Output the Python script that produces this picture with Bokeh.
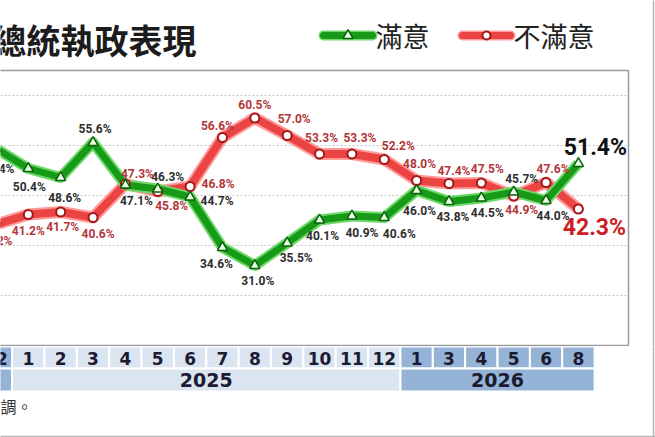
from bokeh.plotting import figure
from bokeh.layouts import column
from bokeh.models import ColumnDataSource, Range1d, Grid, FixedTicker
from bokeh.core.properties import value
from bokeh.embed import file_html
from bokeh.resources import INLINE

# --- data -------------------------------------------------------------
years = ["2024"] + ["2025"] * 12 + ["2026"] * 6
months = ["12", "1", "2", "3", "4", "5", "6", "7", "8", "9", "10", "11", "12",
          "1", "3", "4", "5", "6", "8"]
satisfied = [54.4, 50.4, 48.6, 55.6, 47.1, 46.3, 44.7, 34.6, 31.0, 35.5,
             40.1, 40.9, 40.6, 46.0, 43.8, 44.5, 45.7, 44.0, 51.4]
unsatisfied = [39.2, 41.2, 41.7, 40.6, 47.3, 45.8, 46.8, 56.6, 60.5, 57.0,
               53.3, 53.3, 52.2, 48.0, 47.4, 47.5, 44.9, 47.6, 42.3]
grid_ticks = [25, 35, 45, 55, 65]

title_text = "總統執政表現"
legend_sat = "滿意"
legend_unsat = "不滿意"
footnote = "資料來源：美麗島電子報國政民調。"

# label offsets (screen px) so the numbers sit where the original has them
sat_dx = [2, 1, 4, 2, 11, 10, 27, -6, 3, 9, 3, 10, 15, 3, 4, 6, 8, 7, 17]
sat_dy = [20, 18, 20, -14, 16, -12, 4, 16, 15, 15, 16, 17, 16, 20, 15, 15, -13, 15, -16]
uns_dx = [0, 0, 2, 5, 12, 14, 28, -5, 0, 7, 2, 8, 14, 3, 5, 6, 8, 7, 16]
uns_dy = [16, 16, 15, 16, -10, 14, -3, -12, -13, -17, -16, -16, -14, -17, -13, -14, 14, -14, 18]

# --- layout helpers (page pixels -> data) -------------------------------
W = 655
PX0, COLW = -4.56, 32.36        # page x of first column, column width
PY65, PXPCT = 95.0, 5.0         # page y of the 65% grid line, px per %
SPLIT = 346                     # page y where the month table figure starts


def xd(px):
    return (px - PX0) / COLW


def yd(py):
    return 65 - (py - PY65) / PXPCT


GREEN, GREEN_HALO = "#179a17", "#6fd86a"
RED, RED_HALO = "#ec4343", "#ff9c9c"
LABEL_FONT = value("Roboto")
CJK_FONT = value("Noto Sans CJK TC")
EDGE = "#b4b4b4"

n = len(months)
idx = list(range(n))
fmt = lambda v: "%.1f%%" % v

src = ColumnDataSource(dict(
    x=idx, sat=satisfied, uns=unsatisfied,
    sat_lbl=[fmt(v) for v in satisfied], uns_lbl=[fmt(v) for v in unsatisfied],
    sdx=sat_dx, sdy=sat_dy, udx=uns_dx, udy=uns_dy,
))
last = n - 1
src_small = ColumnDataSource({k: v[:last] for k, v in src.data.items()})
src_last = ColumnDataSource({k: v[last:] for k, v in src.data.items()})

p = figure(width=W, height=SPLIT, output_backend="svg", toolbar_location=None,
           x_range=Range1d(xd(0), xd(W)), y_range=Range1d(yd(SPLIT), yd(0)),
           x_axis_location=None, y_axis_location=None,
           min_border=0, outline_line_color=None)
p.xgrid.visible = False
p.ygrid.visible = False

# plot box and its dotted grid (grid clipped to the box by a white strip)
p.add_layout(Grid(dimension=1, ticker=FixedTicker(ticks=grid_ticks),
                  grid_line_color="#c4c4c4", grid_line_dash="2 2",
                  grid_line_width=1))
p.quad(left=[xd(628)], right=[xd(W + 5)], top=[yd(-5)], bottom=[yd(SPLIT + 5)],
       fill_color="white", line_color=None)
p.quad(left=[xd(-30)], right=[xd(628)], top=[70], bottom=[yd(345)],
       fill_color=None, line_color="#9a9a9a", line_width=1.5)
p.segment(x0=[xd(653)], y0=[yd(-5)], x1=[xd(653)], y1=[yd(SPLIT + 5)],
          color=EDGE, line_width=1.5)

# lines
p.line("x", "uns", source=src, color=RED_HALO, line_width=12, line_join="round")
p.line("x", "uns", source=src, color=RED, line_width=8, line_join="round")
p.line("x", "sat", source=src, color=GREEN_HALO, line_width=11, line_join="round")
p.line("x", "sat", source=src, color=GREEN, line_width=7, line_join="round")
p.scatter("x", "uns", source=src, marker="circle", size=9,
          fill_color="white", line_color="#a31818", line_width=2)
p.scatter("x", "sat", source=src, marker="triangle", size=10,
          fill_color="#e6ffe0", line_color="#0c5f0c", line_width=1.5)

# value labels
p.text("x", "sat", text="sat_lbl", source=src_small, x_offset="sdx", y_offset="sdy",
       text_font=LABEL_FONT, text_font_size="12px", text_font_style="bold",
       text_color="#2e2e2e", text_align="center", text_baseline="middle")
p.text("x", "uns", text="uns_lbl", source=src_small, x_offset="udx", y_offset="udy",
       text_font=LABEL_FONT, text_font_size="12px", text_font_style="bold",
       text_color="#b3363a", text_align="center", text_baseline="middle")
p.text("x", "sat", text="sat_lbl", source=src_last, x_offset="sdx", y_offset="sdy",
       text_font=LABEL_FONT, text_font_size="23px", text_font_style="bold",
       text_color="#111111", text_align="center", text_baseline="middle")
p.text("x", "uns", text="uns_lbl", source=src_last, x_offset="udx", y_offset="udy",
       text_font=LABEL_FONT, text_font_size="23px", text_font_style="bold",
       text_color="#cc1e22", text_align="center", text_baseline="middle")

# title
p.text(x=[xd(-8)], y=[yd(38.5)], text=[title_text], text_font=CJK_FONT,
       text_font_size="34px", text_font_style="bold", text_color="#1c1c1c",
       text_align="left", text_baseline="middle")

# legend
ly = yd(35)
p.segment(x0=[xd(323)], y0=[ly], x1=[xd(372)], y1=[ly], color=GREEN_HALO,
          line_width=10, line_cap="round")
p.segment(x0=[xd(323)], y0=[ly], x1=[xd(372)], y1=[ly], color=GREEN,
          line_width=7, line_cap="round")
p.scatter(x=[xd(347.5)], y=[ly], marker="triangle", size=10,
          fill_color="#e6ffe0", line_color="#0c5f0c", line_width=1.5)
p.text(x=[xd(375)], y=[ly], text=[legend_sat], text_font=CJK_FONT,
       text_font_size="27px", text_color="#222222",
       text_align="left", text_baseline="middle")
p.segment(x0=[xd(462)], y0=[ly], x1=[xd(510)], y1=[ly], color=RED_HALO,
          line_width=10, line_cap="round")
p.segment(x0=[xd(462)], y0=[ly], x1=[xd(510)], y1=[ly], color=RED,
          line_width=7, line_cap="round")
p.scatter(x=[xd(486)], y=[ly], marker="circle", size=8,
          fill_color="white", line_color="#a31818", line_width=2)
p.text(x=[xd(513)], y=[ly], text=[legend_unsat], text_font=CJK_FONT,
       text_font_size="27px", text_color="#222222",
       text_align="left", text_baseline="middle")

# --- month / year table ----------------------------------------------
DARK, LIGHT = "#95b3d7", "#dbe5f1"
year_color = {"2024": DARK, "2025": LIGHT, "2026": DARK}
TH = 437 - SPLIT

t = figure(width=W, height=TH, output_backend="svg", toolbar_location=None,
           x_range=p.x_range, y_range=Range1d(TH, 0),
           x_axis_location=None, y_axis_location=None,
           min_border=0, outline_line_color=None)
t.xgrid.visible = False
t.ygrid.visible = False

cells = ColumnDataSource(dict(
    left=[i - 0.5 for i in idx], right=[i + 0.5 for i in idx],
    x=idx, m=months, c=[year_color[y] for y in years],
))
t.quad(left="left", right="right", top=0, bottom=22, source=cells,
       fill_color="c", line_color="white", line_width=2)
t.text("x", 11.5, text="m", source=cells, text_font=value("DejaVu Sans"),
       text_font_style="bold", text_font_size="17px", text_color="#1b1b33",
       text_align="center", text_baseline="middle")

ylist = []
for y in years:
    if y not in ylist:
        ylist.append(y)
first = [years.index(y) for y in ylist]
lastc = [n - 1 - years[::-1].index(y) for y in ylist]
ysrc = ColumnDataSource(dict(
    left=[a - 0.5 for a in first], right=[b + 0.5 for b in lastc],
    x=[(a + b) / 2 for a, b in zip(first, lastc)],
    yr=ylist, c=[year_color[y] for y in ylist],
))
t.quad(left="left", right="right", top=22, bottom=45, source=ysrc,
       fill_color="c", line_color="white", line_width=2)
# the 2024 group continues off the left edge, so its label is not in view
keep = [k for k in range(len(ylist)) if lastc[k] > first[k]]
ylab = ColumnDataSource(dict(x=[ysrc.data["x"][k] for k in keep],
                             yr=[ylist[k] for k in keep]))
t.text("x", 33.5, text="yr", source=ylab, text_font=value("DejaVu Sans"),
       text_font_style="bold", text_font_size="19px", text_color="#1b1b33",
       text_align="center", text_baseline="middle")

t.text(x=[xd(32)], y=[59], text=[footnote], text_font=CJK_FONT,
       text_font_size="16px", text_color="#333333",
       text_align="right", text_baseline="middle")

# outer frame of the picture
t.segment(x0=[xd(653)], y0=[-5], x1=[xd(653)], y1=[90], color=EDGE, line_width=1.5)
t.segment(x0=[xd(-5)], y0=[90], x1=[xd(W + 5)], y1=[90], color=EDGE, line_width=1.5)

layout = column(p, t, spacing=0)
open("out.html", "w").write(file_html(layout, INLINE))
